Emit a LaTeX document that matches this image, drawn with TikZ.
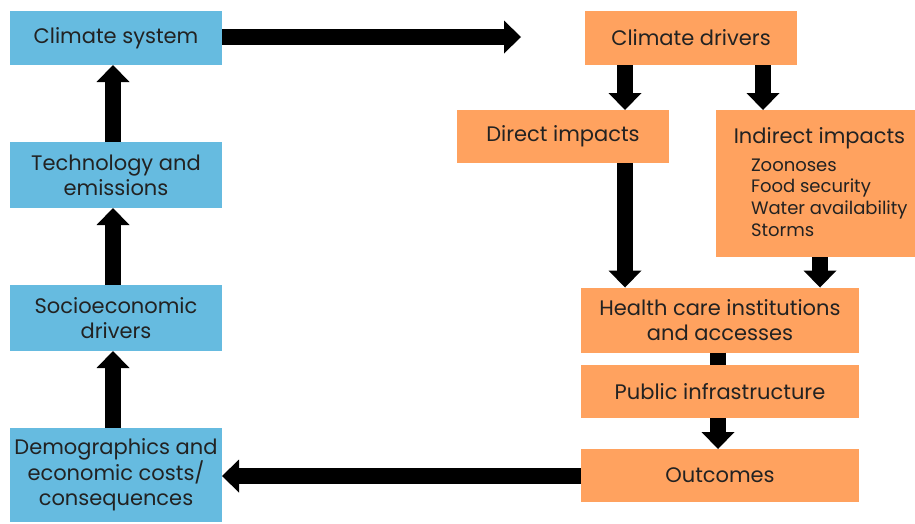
\documentclass[tikz,border=0pt]{standalone}
\usepackage{fontspec}
\setmainfont{Poppins}
\usetikzlibrary{arrows.meta}
\definecolor{boxblue}{HTML}{66BBE0}
\definecolor{boxorange}{HTML}{FFA25F}
\definecolor{txt}{HTML}{222222}
\begin{document}
\begin{tikzpicture}[x=1pt,y=-1pt,
  basebox/.style={inner sep=0pt, outer sep=0pt, align=center, text=txt, font=\fontsize{21}{25}\selectfont},
  bluebox/.style={basebox, fill=boxblue, minimum width=212pt},
  orangebox/.style={basebox, fill=boxorange},
  bigarrow/.style={line width=16pt, -{Triangle[length=17pt,width=33pt,line width=0pt]}},
  bar/.style={line width=16pt}]
\useasboundingbox (0,0) rectangle (915,523);
% left column
\node[bluebox, minimum height=54pt] (cs) at (116,38) {Climate system};
\node[bluebox, minimum height=66pt] (te) at (116,175) {Technology and\\emissions};
\node[bluebox, minimum height=66pt] (so) at (116,318) {Socioeconomic\\drivers};
\node[bluebox, minimum height=94pt] (de) at (116,475) {Demographics and\\economic costs/\\consequences};
% right side
\node[orangebox, minimum width=212pt, minimum height=54pt] (cd) at (691,38) {Climate drivers};
\node[orangebox, minimum width=212pt, minimum height=53pt] (di) at (563,136.5) {Direct impacts};
\node[orangebox, minimum width=199pt, minimum height=147pt] (ii) at (815.5,183.5) {};
\node[basebox] (iit) at (819.5,138) {Indirect impacts};
\node[basebox, anchor=north west, align=left, font=\fontsize{18}{21.7}\selectfont] (iil) at (751,158.5)
  {Zoonoses\\Food security\\Water availability\\Storms};
\node[orangebox, minimum width=278pt, minimum height=65pt] (hc) at (720,320) {Health care institutions\\and accesses};
\node[orangebox, minimum width=278pt, minimum height=53pt] (pi) at (720,391.5) {Public infrastructure};
\node[orangebox, minimum width=278pt, minimum height=53pt] (ou) at (720,475.5) {Outcomes};
\coordinate (tipA) at (521,37);
% arrows
\draw[bigarrow] (cs.east |- 0,37) -- (tipA);
\draw[bigarrow] (te.north -| 113,0) -- (cs.south -| 113,0);
\draw[bigarrow] (so.north -| 113,0) -- (te.south -| 113,0);
\draw[bigarrow] (de.north -| 113,0) -- (so.south -| 113,0);
\draw[bigarrow] (cd.south -| 625,0) -- (di.north -| 625,0);
\draw[bigarrow] (cd.south -| 763,0) -- (ii.north -| 763,0);
\draw[bigarrow] (di.south -| 625,0) -- (hc.north -| 625,0);
\draw[bigarrow] (ii.south -| 820,0) -- (hc.north -| 820,0);
\draw[bar] (hc.south -| 718,0) -- (pi.north -| 718,0);
\draw[bigarrow] (pi.south -| 718,0) -- (ou.north -| 718,0);
\draw[bigarrow] (ou.west |- 0,476) -- (de.east |- 0,476);
\end{tikzpicture}
\end{document}
